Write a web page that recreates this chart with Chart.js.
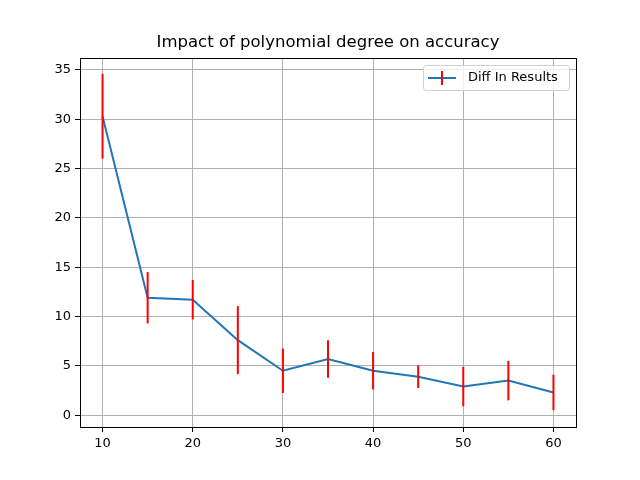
<!DOCTYPE html>
<html>
<head>
<meta charset="utf-8">
<script src="https://cdn.jsdelivr.net/npm/chart.js@4"></script>
<style>
  html, body { margin: 0; padding: 0; background: #fff; }
  #wrap { width: 640px; height: 480px; }
</style>
</head>
<body>
<div id="wrap"><canvas id="degreeChart"></canvas></div>
<script>
// data
const degrees = [10, 15, 20, 25, 30, 35, 40, 45, 50, 55, 60];
const diffs = [30.3, 11.9, 11.7, 7.6, 4.5, 5.7, 4.5, 3.9, 2.9, 3.5, 2.3];
const errs = [4.3, 2.6, 2.0, 3.45, 2.25, 1.9, 1.9, 1.15, 2.0, 2.0, 1.8];
const xTicks = [10, 20, 30, 40, 50, 60];
const yTicks = [0, 5, 10, 15, 20, 25, 30, 35];
const titleText = 'Impact of polynomial degree on accuracy';

Chart.defaults.font.family = "'DejaVu Sans', sans-serif";
Chart.defaults.color = '#000';

// red vertical error bars, positioned through the chart scales
const errorBars = {
    id: 'errorBars',
    afterDatasetsDraw(chart) {
        const { ctx, scales: { x, y } } = chart;
        ctx.save();
        ctx.strokeStyle = 'red';
        ctx.lineWidth = 2;
        degrees.forEach((d, i) => {
            const px = x.getPixelForValue(d);
            ctx.beginPath();
            ctx.moveTo(px, y.getPixelForValue(diffs[i] + errs[i]));
            ctx.lineTo(px, y.getPixelForValue(diffs[i] - errs[i]));
            ctx.stroke();
        });
        ctx.restore();
    }
};

// full black frame, title centred over the plot, matplotlib-like legend
const frameAndLegend = {
    id: 'frameAndLegend',
    afterDraw(chart) {
        const { ctx, chartArea: a } = chart;
        ctx.save();
        ctx.strokeStyle = '#000';
        ctx.lineWidth = 1;
        ctx.strokeRect(a.left + 0.5, a.top + 0.5, a.right - a.left, a.bottom - a.top);

        ctx.fillStyle = '#000';
        ctx.font = "16.5px 'DejaVu Sans', sans-serif";
        ctx.textAlign = 'center';
        ctx.textBaseline = 'middle';
        ctx.fillText(titleText, (a.left + a.right) / 2, a.top - 15);

        const w = 146, h = 25;
        const bx = a.right - 7 - w, by = a.top + 7;
        ctx.fillStyle = 'rgba(255,255,255,0.8)';
        ctx.strokeStyle = '#d0d0d0';
        ctx.beginPath();
        ctx.roundRect(bx + 0.5, by + 0.5, w, h, 3);
        ctx.fill();
        ctx.stroke();

        const cy = by + h / 2 + 0.5;
        ctx.strokeStyle = '#1f77b4';
        ctx.lineWidth = 2;
        ctx.beginPath();
        ctx.moveTo(bx + 5, cy);
        ctx.lineTo(bx + 33, cy);
        ctx.stroke();
        ctx.strokeStyle = 'red';
        ctx.beginPath();
        ctx.moveTo(bx + 19, cy - 7);
        ctx.lineTo(bx + 19, cy + 7);
        ctx.stroke();

        ctx.fillStyle = '#000';
        ctx.font = "13px 'DejaVu Sans', sans-serif";
        ctx.textAlign = 'left';
        ctx.fillText(chart.data.datasets[0].label, bx + 45, cy);
        ctx.restore();
    }
};

const ctx = document.getElementById('degreeChart').getContext('2d');
const degreeChart = new Chart(ctx, {
    type: 'line',
    data: {
        datasets: [{
            label: 'Diff In Results',
            data: degrees.map((d, i) => ({ x: d, y: diffs[i] })),
            borderColor: '#1f77b4',
            borderWidth: 2,
            pointRadius: 0,
            tension: 0
        }]
    },
    options: {
        responsive: true,
        maintainAspectRatio: false,
        animation: false,
        layout: { padding: { top: 58, right: 64 } },
        plugins: {
            legend: { display: false },
            tooltip: { enabled: false },
            title: { display: false }
        },
        scales: {
            x: {
                type: 'linear',
                min: 7.5,
                max: 62.5,
                afterBuildTicks: axis => { axis.ticks = xTicks.map(v => ({ value: v })); },
                afterFit: axis => { axis.height = 53; },
                grid: { color: '#b0b0b0', tickColor: '#000', tickLength: 5 },
                border: { color: '#000' },
                ticks: { font: { size: 13 }, padding: 4, maxRotation: 0 }
            },
            y: {
                type: 'linear',
                min: -1.2,
                max: 36.2,
                afterBuildTicks: axis => { axis.ticks = yTicks.map(v => ({ value: v })); },
                afterFit: axis => { axis.width = 80; },
                grid: { color: '#b0b0b0', tickColor: '#000', tickLength: 5 },
                border: { color: '#000' },
                ticks: { font: { size: 13 }, padding: 4 }
            }
        }
    },
    plugins: [errorBars, frameAndLegend]
});
</script>
</body>
</html>
